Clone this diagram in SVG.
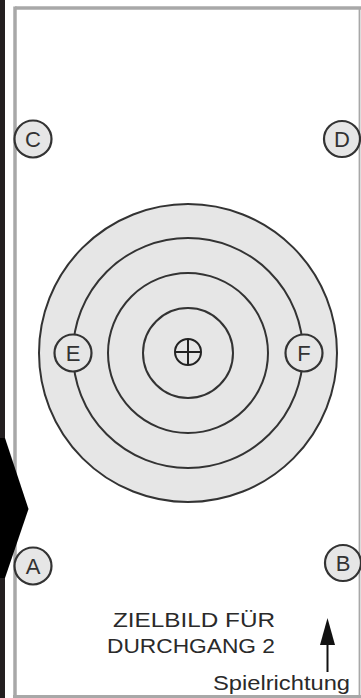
<svg xmlns="http://www.w3.org/2000/svg" width="361" height="698" viewBox="0 0 361 698">
  <defs>
    <style>
      .ring { fill: none; stroke: #333; stroke-width: 2; }
      .mk circle { fill: #e6e6e6; stroke: #333; stroke-width: 2.2; }
      .mk text { font-family: "Liberation Sans", Arial, sans-serif; font-size: 22px; fill: #333; text-anchor: middle; }
      .lbl { font-family: "Liberation Sans", Arial, sans-serif; font-size: 21px; fill: #2a2a2a; }
    </style>
  </defs>

  <!-- background -->
  <rect x="0" y="0" width="361" height="698" fill="#fff"/>
  <rect x="0" y="0" width="5" height="698" fill="#231f20"/>

  <!-- panel border -->
  <g id="panel">
    <line x1="15" y1="8" x2="361" y2="8" stroke="#a8a8a8" stroke-width="3.5"/>
    <line x1="15" y1="6.5" x2="15" y2="698" stroke="#a8a8a8" stroke-width="3.5"/>
    <line x1="359.5" y1="8" x2="359.5" y2="698" stroke="#a8a8a8" stroke-width="1.8"/>
    <line x1="13" y1="696.5" x2="361" y2="696.5" stroke="#a8a8a8" stroke-width="3"/>
  </g>

  <!-- chevron -->
  <polygon id="chevron" points="0,438 5,438 28.5,509 5,578 0,578" fill="#000"/>

  <!-- target -->
  <g id="target">
    <circle cx="188" cy="353" r="149" fill="#e6e6e6" stroke="#333" stroke-width="2"/>
    <circle class="ring" cx="188" cy="353" r="115"/>
    <circle class="ring" cx="188" cy="353" r="80"/>
    <circle class="ring" cx="188" cy="353" r="45"/>
  </g>

  <g id="center">
    <circle cx="188" cy="352" r="13" fill="none" stroke="#222" stroke-width="2"/>
    <line x1="175" y1="352" x2="201" y2="352" stroke="#222" stroke-width="2"/>
    <line x1="188" y1="339" x2="188" y2="365" stroke="#222" stroke-width="2"/>
  </g>

  <g id="marker-E" class="mk"><circle cx="73" cy="353" r="18.5"/><text x="73" y="361">E</text></g>
  <g id="marker-F" class="mk"><circle cx="304" cy="353" r="18.5"/><text x="304" y="361">F</text></g>
  <g id="marker-C" class="mk"><circle cx="33" cy="139" r="18.5"/><text x="33" y="147">C</text></g>
  <g id="marker-D" class="mk"><circle cx="342" cy="139" r="18"/><text x="342" y="147">D</text></g>
  <g id="marker-A" class="mk"><circle cx="33" cy="566" r="18.5"/><text x="33" y="574">A</text></g>
  <g id="marker-B" class="mk"><circle cx="343" cy="563" r="18"/><text x="343" y="571">B</text></g>

  <g id="labels">
    <text class="lbl" x="113" y="627" textLength="162" lengthAdjust="spacingAndGlyphs">ZIELBILD FÜR</text>
    <text class="lbl" x="107" y="653" textLength="168" lengthAdjust="spacingAndGlyphs">DURCHGANG 2</text>
    <text class="lbl" x="213" y="690" textLength="137" lengthAdjust="spacingAndGlyphs">Spielrichtung</text>
  </g>

  <g id="connectors">
    <line x1="327.5" y1="672" x2="327.5" y2="640" stroke="#111" stroke-width="2"/>
    <polygon points="327.5,618 320,645 335,645" fill="#111"/>
  </g>
</svg>
